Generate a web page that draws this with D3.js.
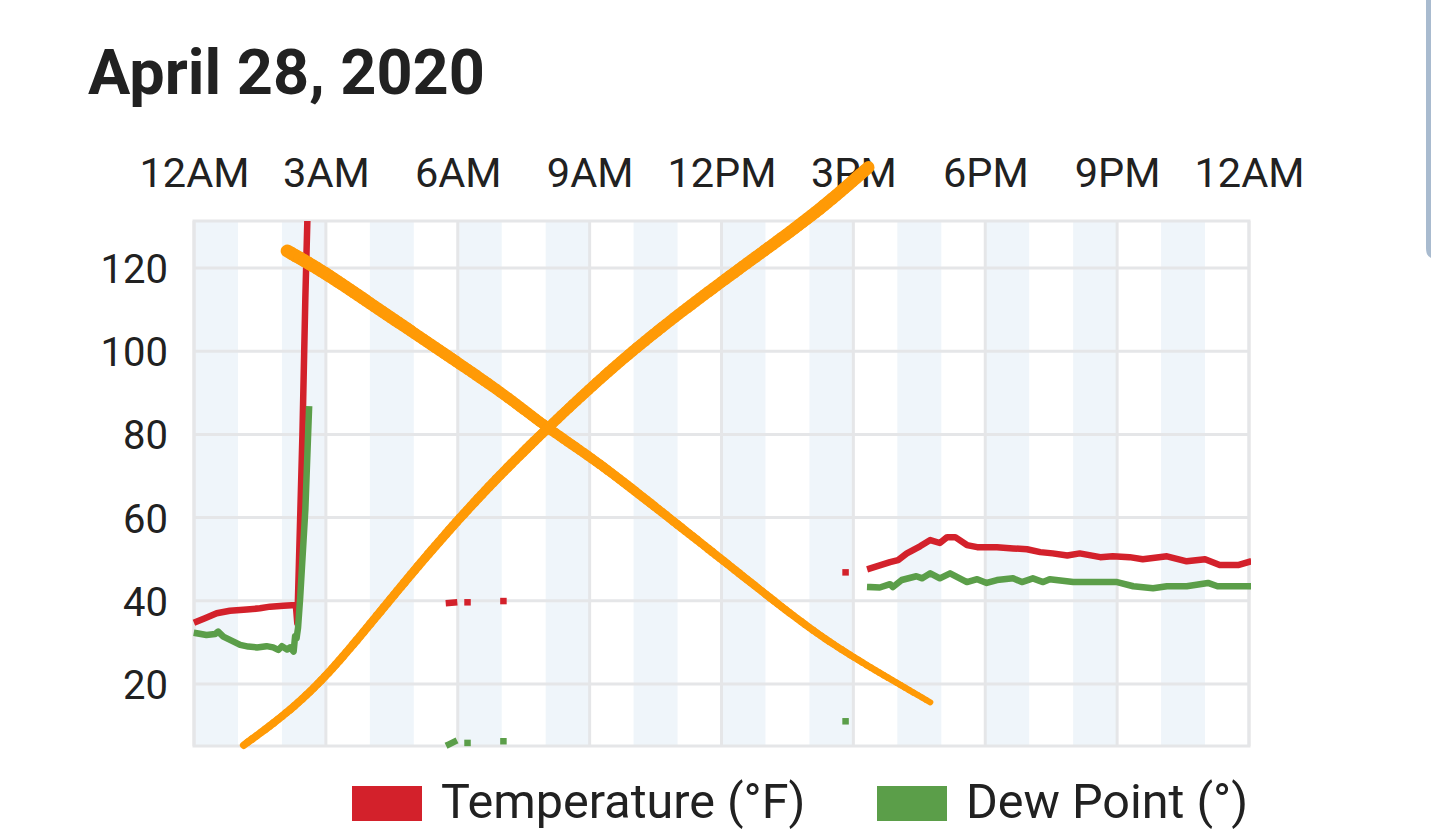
<!DOCTYPE html>
<html>
<head>
<meta charset="utf-8">
<script src="https://cdn.jsdelivr.net/npm/d3@7"></script>
<style>
  body { margin: 0; background: #fff; }
  svg text { font-family: Roboto, "Noto Sans", sans-serif; fill: #212121; }
</style>
</head>
<body>
<div id="chart"></div>
<script>
// chart values
const title = "April 28, 2020";
const seriesNames = ["Temperature (°F)", "Dew Point (°)"];
const yTicks = [20, 40, 60, 80, 100, 120];
const xTickHours = [0, 3, 6, 9, 12, 15, 18, 21, 24];

// null = gap in the record
const tempTimes = ["00:04", "00:15", "00:31", "00:49", "01:12", "01:30", "01:44", "02:02", "02:19", "02:21", "02:28", "02:32", "02:36",
  "04:00", "05:48", "05:55", "06:05", "06:13", "06:40", "07:02", "10:00", "14:49", "15:10",
  "15:23", "15:36", "15:50", "16:01", "16:13", "16:31", "16:45", "16:58", "17:08", "17:19", "17:35", "17:49", "18:16", "18:38",
  "18:57", "19:15", "19:32", "19:52", "20:09", "20:37", "20:54", "21:17", "21:35", "22:08", "22:35", "23:00", "23:20", "23:45", "23:59"];
const tempValues = [35.0, 35.8, 37.0, 37.6, 37.9, 38.2, 38.6, 38.8, 39.0, 34.6, 80, 113, 140,
  null, 39.5, 39.6, null, 39.7, null, 40.0, null, 46.9, null,
  47.8, 48.5, 49.3, 49.8, 51.4, 53.1, 54.6, 53.9, 55.3, 55.3, 53.4, 52.9, 52.9, 52.6,
  52.4, 51.7, 51.4, 50.9, 51.4, 50.5, 50.7, 50.5, 50.0, 50.7, 49.5, 50.0, 48.6, 48.6, 49.3];

const dewTimes = ["00:04", "00:17", "00:29", "00:33", "00:40", "00:54", "01:03", "01:14", "01:26", "01:39", "01:48", "01:55", "02:00",
  "02:07", "02:11", "02:16", "02:18", "02:20", "02:22", "02:25", "02:32", "02:37",
  "04:00", "05:48", "05:55", "06:05", "06:13", "06:40", "07:02", "10:00", "14:49", "15:10",
  "15:23", "15:36", "15:50", "15:54", "16:06", "16:26", "16:34", "16:45", "16:58", "17:12", "17:35", "17:49", "18:02", "18:16",
  "18:38", "18:50", "19:05", "19:19", "19:28", "20:00", "20:37", "21:00", "21:22", "21:49", "22:08", "22:35", "23:04", "23:17", "23:59"];
const dewValues = [32.2, 31.8, 32.0, 32.6, 31.4, 30.2, 29.4, 29.0, 28.8, 29.1, 28.8, 28.2, 29.1,
  28.3, 28.8, 27.8, 31.5, 31.0, 33.5, 41, 62, 86,
  null, 5.5, 6.1, null, 5.9, null, 6.3, null, 11.1, null,
  43.3, 43.2, 44.0, 43.3, 45.0, 45.9, 45.4, 46.6, 45.4, 46.6, 44.5, 45.2, 44.3, 45.0,
  45.4, 44.5, 45.4, 44.5, 45.2, 44.5, 44.5, 44.5, 43.5, 43.0, 43.5, 43.5, 44.3, 43.5, 43.5];

// hand-drawn orange cross over the chart, as [hour, value]
const strokeDown = [[2.12, 124.1], [2.91, 119.4], [3.95, 111.9], [5.52, 100.7], [7.09, 89.5], [8.03, 81.5],
  [9.17, 73.6], [10.74, 60.5], [12.31, 47.4], [13.87, 34.3], [14.92, 26.8], [16.75, 15.6]];
const strokeUp = [[1.13, 5.3], [1.86, 10.9], [2.60, 17.5], [3.43, 26.8], [5.00, 47.4], [6.56, 66.1], [8.03, 81.5],
  [9.70, 97.9], [11.26, 110.9], [12.83, 123.1], [14.19, 133.5], [15.34, 144.2]];

const W = 1431, H = 831;
const plot = { left: 194, right: 1249, top: 221, bottom: 746 };
const colors = { temp: "#d3212b", dew: "#5b9e49", grid: "#e5e6e8", band: "#eff5fa", mark: "#ff9a06" };

const day = new Date(2020, 3, 28);
const parseTime = t => d3.timeParse("%Y-%m-%d %H:%M")("2020-04-28 " + t);
const hourDate = h => new Date(day.getTime() + h * 3600e3);

const x = d3.scaleTime().domain([hourDate(0), hourDate(24)]).range([plot.left, plot.right]);
const y = d3.scaleLinear().domain([5.1, 131.3]).range([plot.bottom, plot.top]);

const svg = d3.select("#chart")
  .append("svg")
  .attr("width", W)
  .attr("height", H);

svg.append("defs").append("clipPath")
  .attr("id", "plotClip")
  .append("rect")
  .attr("x", plot.left - 4)
  .attr("y", plot.top)
  .attr("width", plot.right - plot.left + 6)
  .attr("height", plot.bottom - plot.top + 4);

// title
svg.append("text")
  .attr("x", 88)
  .attr("y", 94)
  .attr("font-size", 63)
  .attr("font-weight", 700)
  .text(title);

// alternating hour bands
svg.append("g")
  .selectAll("rect")
  .data(d3.range(0, 24, 2))
  .enter().append("rect")
  .attr("x", h => x(hourDate(h)))
  .attr("y", plot.top)
  .attr("width", h => x(hourDate(h + 1)) - x(hourDate(h)))
  .attr("height", plot.bottom - plot.top)
  .attr("fill", colors.band);

// grid
const grid = svg.append("g")
  .attr("stroke", colors.grid)
  .attr("stroke-width", 3);

grid.selectAll(".hgrid")
  .data(yTicks)
  .enter().append("line")
  .attr("x1", plot.left)
  .attr("x2", plot.right)
  .attr("y1", d => y(d))
  .attr("y2", d => y(d));

grid.selectAll(".vgrid")
  .data(xTickHours)
  .enter().append("line")
  .attr("x1", h => x(hourDate(h)))
  .attr("x2", h => x(hourDate(h)))
  .attr("y1", plot.top)
  .attr("y2", plot.bottom);

grid.append("rect")
  .attr("x", plot.left)
  .attr("y", plot.top)
  .attr("width", plot.right - plot.left)
  .attr("height", plot.bottom - plot.top)
  .attr("fill", "none");

// axes
const xAxis = svg.append("g")
  .attr("transform", `translate(0,${plot.top})`)
  .call(d3.axisTop(x)
    .tickValues(xTickHours.map(hourDate))
    .tickFormat(d3.timeFormat("%-I%p"))
    .tickSize(0)
    .tickPadding(34));

const yAxis = svg.append("g")
  .attr("transform", `translate(${plot.left},0)`)
  .call(d3.axisLeft(y)
    .tickValues(yTicks)
    .tickSize(0)
    .tickPadding(26));

[xAxis, yAxis].forEach(g => {
  g.attr("font-family", null).attr("font-size", null);
  g.select(".domain").remove();
  g.selectAll("text").attr("font-size", 41.5).attr("fill", "#212121");
});
yAxis.selectAll("text").attr("font-size", 40).attr("dy", "0.36em");

// series
function segments(times, values) {
  const out = [];
  let cur = [];
  times.forEach((t, i) => {
    if (values[i] == null) {
      if (cur.length) out.push(cur);
      cur = [];
    } else {
      cur.push({ t: parseTime(t), v: values[i] });
    }
  });
  if (cur.length) out.push(cur);
  return out;
}

const line = d3.line()
  .x(d => x(d.t))
  .y(d => y(d.v));

const series = [
  { segs: segments(tempTimes, tempValues), color: colors.temp },
  { segs: segments(dewTimes, dewValues), color: colors.dew }
];

const dataLayer = svg.append("g").attr("clip-path", "url(#plotClip)");

series.forEach(s => {
  const g = dataLayer.append("g");
  g.selectAll("path")
    .data(s.segs.filter(seg => seg.length > 1))
    .enter().append("path")
    .attr("d", line)
    .attr("fill", "none")
    .attr("stroke", s.color)
    .attr("stroke-width", 6.5)
    .attr("stroke-linejoin", "round")
    .attr("stroke-linecap", "square");

  g.selectAll("rect")
    .data(s.segs.filter(seg => seg.length === 1).map(seg => seg[0]))
    .enter().append("rect")
    .attr("x", d => x(d.t) - 3)
    .attr("y", d => y(d.v) - 3)
    .attr("width", 6.5)
    .attr("height", 6.5)
    .attr("fill", s.color);
});

// orange marker strokes, tapering width
function drawStroke(pts, w0, w1) {
  const gen = d3.line().curve(d3.curveBasis)
    .x(d => x(hourDate(d[0])))
    .y(d => y(d[1]));
  const guide = svg.append("path").attr("d", gen(pts)).attr("fill", "none");
  const node = guide.node();
  const len = node.getTotalLength();
  const n = 160;
  const samples = d3.range(n + 1).map(i => node.getPointAtLength(len * i / n));
  guide.remove();
  const g = svg.append("g")
    .attr("stroke", colors.mark)
    .attr("stroke-linecap", "round");
  for (let i = 0; i < n; i++) {
    g.append("line")
      .attr("x1", samples[i].x).attr("y1", samples[i].y)
      .attr("x2", samples[i + 1].x).attr("y2", samples[i + 1].y)
      .attr("stroke-width", w0 + (w1 - w0) * i / n);
  }
}
drawStroke(strokeDown, 13, 6);
drawStroke(strokeUp, 7.5, 12.5);

// legend
const legend = svg.append("g");
const legendItems = [
  { name: seriesNames[0], color: colors.temp, x: 352 },
  { name: seriesNames[1], color: colors.dew, x: 877 }
];
legendItems.forEach(d => {
  legend.append("rect")
    .attr("x", d.x)
    .attr("y", 786)
    .attr("width", 70)
    .attr("height", 35)
    .attr("fill", d.color);
  legend.append("text")
    .attr("x", d.x + 89)
    .attr("y", 818)
    .attr("font-size", 48.5)
    .text(d.name);
});

// scrollbar edge at the right of the screen
svg.append("path")
  .attr("d", `M${W},0 H1426 V248 Q1426,256 1431,258 Z`)
  .attr("fill", "#a9bbcf");
</script>
</body>
</html>
